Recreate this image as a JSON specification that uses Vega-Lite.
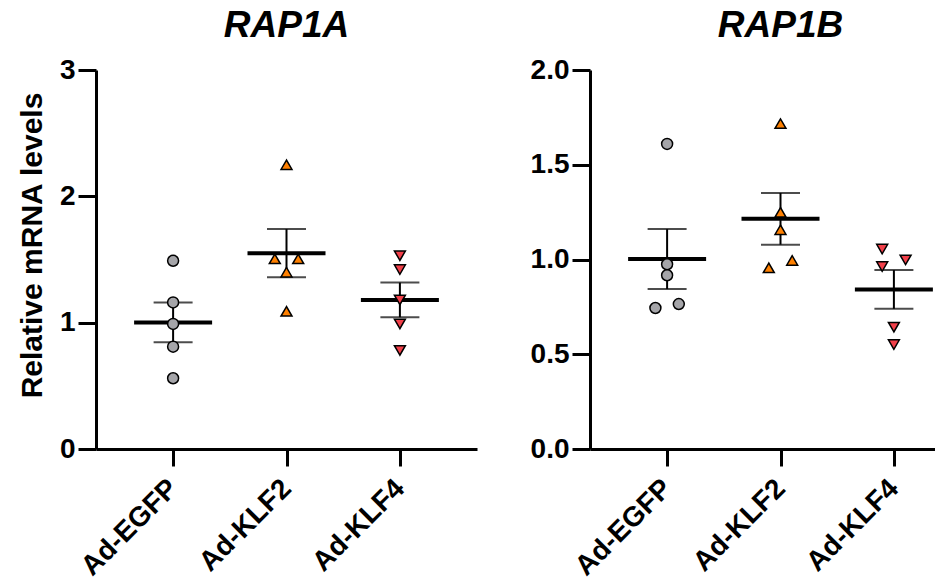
{
  "$schema": "https://vega.github.io/schema/vega-lite/v6.json",
  "background": "white",
  "padding": {"left": 17, "top": 7, "right": 0, "bottom": 0},
  "spacing": 53,
  "datasets": {
    "rap1a": [
      {"group": "Ad-EGFP", "value": 1.49, "slot": "C"},
      {"group": "Ad-EGFP", "value": 1.16, "slot": "C"},
      {"group": "Ad-EGFP", "value": 0.99, "slot": "C"},
      {"group": "Ad-EGFP", "value": 0.81, "slot": "C"},
      {"group": "Ad-EGFP", "value": 0.56, "slot": "C"},
      {"group": "Ad-KLF2", "value": 2.25, "slot": "C"},
      {"group": "Ad-KLF2", "value": 1.505, "slot": "L"},
      {"group": "Ad-KLF2", "value": 1.505, "slot": "R"},
      {"group": "Ad-KLF2", "value": 1.40, "slot": "C"},
      {"group": "Ad-KLF2", "value": 1.09, "slot": "C"},
      {"group": "Ad-KLF4", "value": 1.53, "slot": "C"},
      {"group": "Ad-KLF4", "value": 1.42, "slot": "C"},
      {"group": "Ad-KLF4", "value": 1.18, "slot": "C"},
      {"group": "Ad-KLF4", "value": 0.99, "slot": "C"},
      {"group": "Ad-KLF4", "value": 0.78, "slot": "C"}
    ],
    "rap1b": [
      {"group": "Ad-EGFP", "value": 1.61, "slot": "C"},
      {"group": "Ad-EGFP", "value": 0.975, "slot": "C"},
      {"group": "Ad-EGFP", "value": 0.917, "slot": "C"},
      {"group": "Ad-EGFP", "value": 0.765, "slot": "R"},
      {"group": "Ad-EGFP", "value": 0.744, "slot": "L"},
      {"group": "Ad-KLF2", "value": 1.717, "slot": "C"},
      {"group": "Ad-KLF2", "value": 1.249, "slot": "C"},
      {"group": "Ad-KLF2", "value": 1.157, "slot": "C"},
      {"group": "Ad-KLF2", "value": 0.995, "slot": "R"},
      {"group": "Ad-KLF2", "value": 0.956, "slot": "L"},
      {"group": "Ad-KLF4", "value": 1.055, "slot": "L"},
      {"group": "Ad-KLF4", "value": 0.998, "slot": "R"},
      {"group": "Ad-KLF4", "value": 0.963, "slot": "L"},
      {"group": "Ad-KLF4", "value": 0.643, "slot": "C"},
      {"group": "Ad-KLF4", "value": 0.551, "slot": "C"}
    ]
  },
  "hconcat": [
    {
      "title": {"text": "RAP1A"},
      "width": 381,
      "height": 379,
      "data": {"name": "rap1a"},
      "layer": [
        {
          "mark": {"type": "errorbar", "extent": "stderr", "thickness": 2, "color": "black", "ticks": {"size": 39, "thickness": 2, "color": "black"}},
          "encoding": {
            "x": {"field": "group", "type": "nominal", "scale": {"type": "point", "padding": 0.68, "domain": ["Ad-EGFP", "Ad-KLF2", "Ad-KLF4"]}, "axis": {"title": null}},
            "y": {"field": "value", "type": "quantitative", "scale": {"domain": [0, 3], "nice": false}, "axis": {"values": [0, 1, 2, 3], "format": "d", "title": "Relative mRNA levels", "titleY": 175}}
          }
        },
        {
          "mark": {"type": "tick", "orient": "horizontal", "size": 78, "thickness": 4, "color": "black"},
          "encoding": {
            "x": {"field": "group", "type": "nominal"},
            "y": {"aggregate": "mean", "field": "value", "type": "quantitative"}
          }
        },
        {
          "mark": {"type": "point", "filled": true, "stroke": "black", "strokeWidth": 1.5, "size": 120, "opacity": 1},
          "encoding": {
            "x": {"field": "group", "type": "nominal"},
            "xOffset": {"field": "slot", "type": "nominal", "scale": {"type": "point", "padding": 0, "domain": ["L", "C", "R"], "range": [-11.7, 11.7]}},
            "y": {"field": "value", "type": "quantitative"},
            "shape": {"field": "group", "type": "nominal", "scale": {"domain": ["Ad-EGFP", "Ad-KLF2", "Ad-KLF4"], "range": ["circle", "triangle-up", "triangle-down"]}, "legend": null},
            "fill": {"field": "group", "type": "nominal", "scale": {"domain": ["Ad-EGFP", "Ad-KLF2", "Ad-KLF4"], "range": ["#a5a5a9", "#ff8000", "#f2404a"]}, "legend": null}
          }
        }
      ]
    },
    {
      "title": {"text": "RAP1B"},
      "width": 381,
      "height": 379,
      "data": {"name": "rap1b"},
      "layer": [
        {
          "mark": {"type": "errorbar", "extent": "stderr", "thickness": 2, "color": "black", "ticks": {"size": 39, "thickness": 2, "color": "black"}},
          "encoding": {
            "x": {"field": "group", "type": "nominal", "scale": {"type": "point", "padding": 0.68, "domain": ["Ad-EGFP", "Ad-KLF2", "Ad-KLF4"]}, "axis": {"title": null}},
            "y": {"field": "value", "type": "quantitative", "scale": {"domain": [0, 2], "nice": false}, "axis": {"values": [0, 0.5, 1, 1.5, 2], "format": ".1f", "title": null}}
          }
        },
        {
          "mark": {"type": "tick", "orient": "horizontal", "size": 78, "thickness": 4, "color": "black"},
          "encoding": {
            "x": {"field": "group", "type": "nominal"},
            "y": {"aggregate": "mean", "field": "value", "type": "quantitative"}
          }
        },
        {
          "mark": {"type": "point", "filled": true, "stroke": "black", "strokeWidth": 1.5, "size": 120, "opacity": 1},
          "encoding": {
            "x": {"field": "group", "type": "nominal"},
            "xOffset": {"field": "slot", "type": "nominal", "scale": {"type": "point", "padding": 0, "domain": ["L", "C", "R"], "range": [-11.7, 11.7]}},
            "y": {"field": "value", "type": "quantitative"},
            "shape": {"field": "group", "type": "nominal", "scale": {"domain": ["Ad-EGFP", "Ad-KLF2", "Ad-KLF4"], "range": ["circle", "triangle-up", "triangle-down"]}, "legend": null},
            "fill": {"field": "group", "type": "nominal", "scale": {"domain": ["Ad-EGFP", "Ad-KLF2", "Ad-KLF4"], "range": ["#a5a5a9", "#ff8000", "#f2404a"]}, "legend": null}
          }
        }
      ]
    }
  ],
  "config": {
    "font": "Liberation Sans",
    "view": {"stroke": null},
    "title": {"font": "Liberation Sans", "fontSize": 37, "fontWeight": "bold", "fontStyle": "italic", "color": "black", "anchor": "middle", "offset": 11},
    "axis": {
      "grid": false,
      "domainColor": "black",
      "domainWidth": 3,
      "tickColor": "black",
      "tickWidth": 3,
      "labelFont": "Liberation Sans",
      "labelFontWeight": "bold",
      "labelColor": "black",
      "titleFont": "Liberation Sans",
      "titleFontWeight": "bold",
      "titleColor": "black"
    },
    "axisY": {"labelFontSize": 28, "labelPadding": 3, "tickSize": 18, "titleFontSize": 30, "titlePadding": 12},
    "axisX": {"labelFontSize": 28, "labelAngle": -45, "labelAlign": "right", "labelBaseline": "middle", "tickSize": 17, "labelPadding": 18, "labelOverlap": false}
  }
}
